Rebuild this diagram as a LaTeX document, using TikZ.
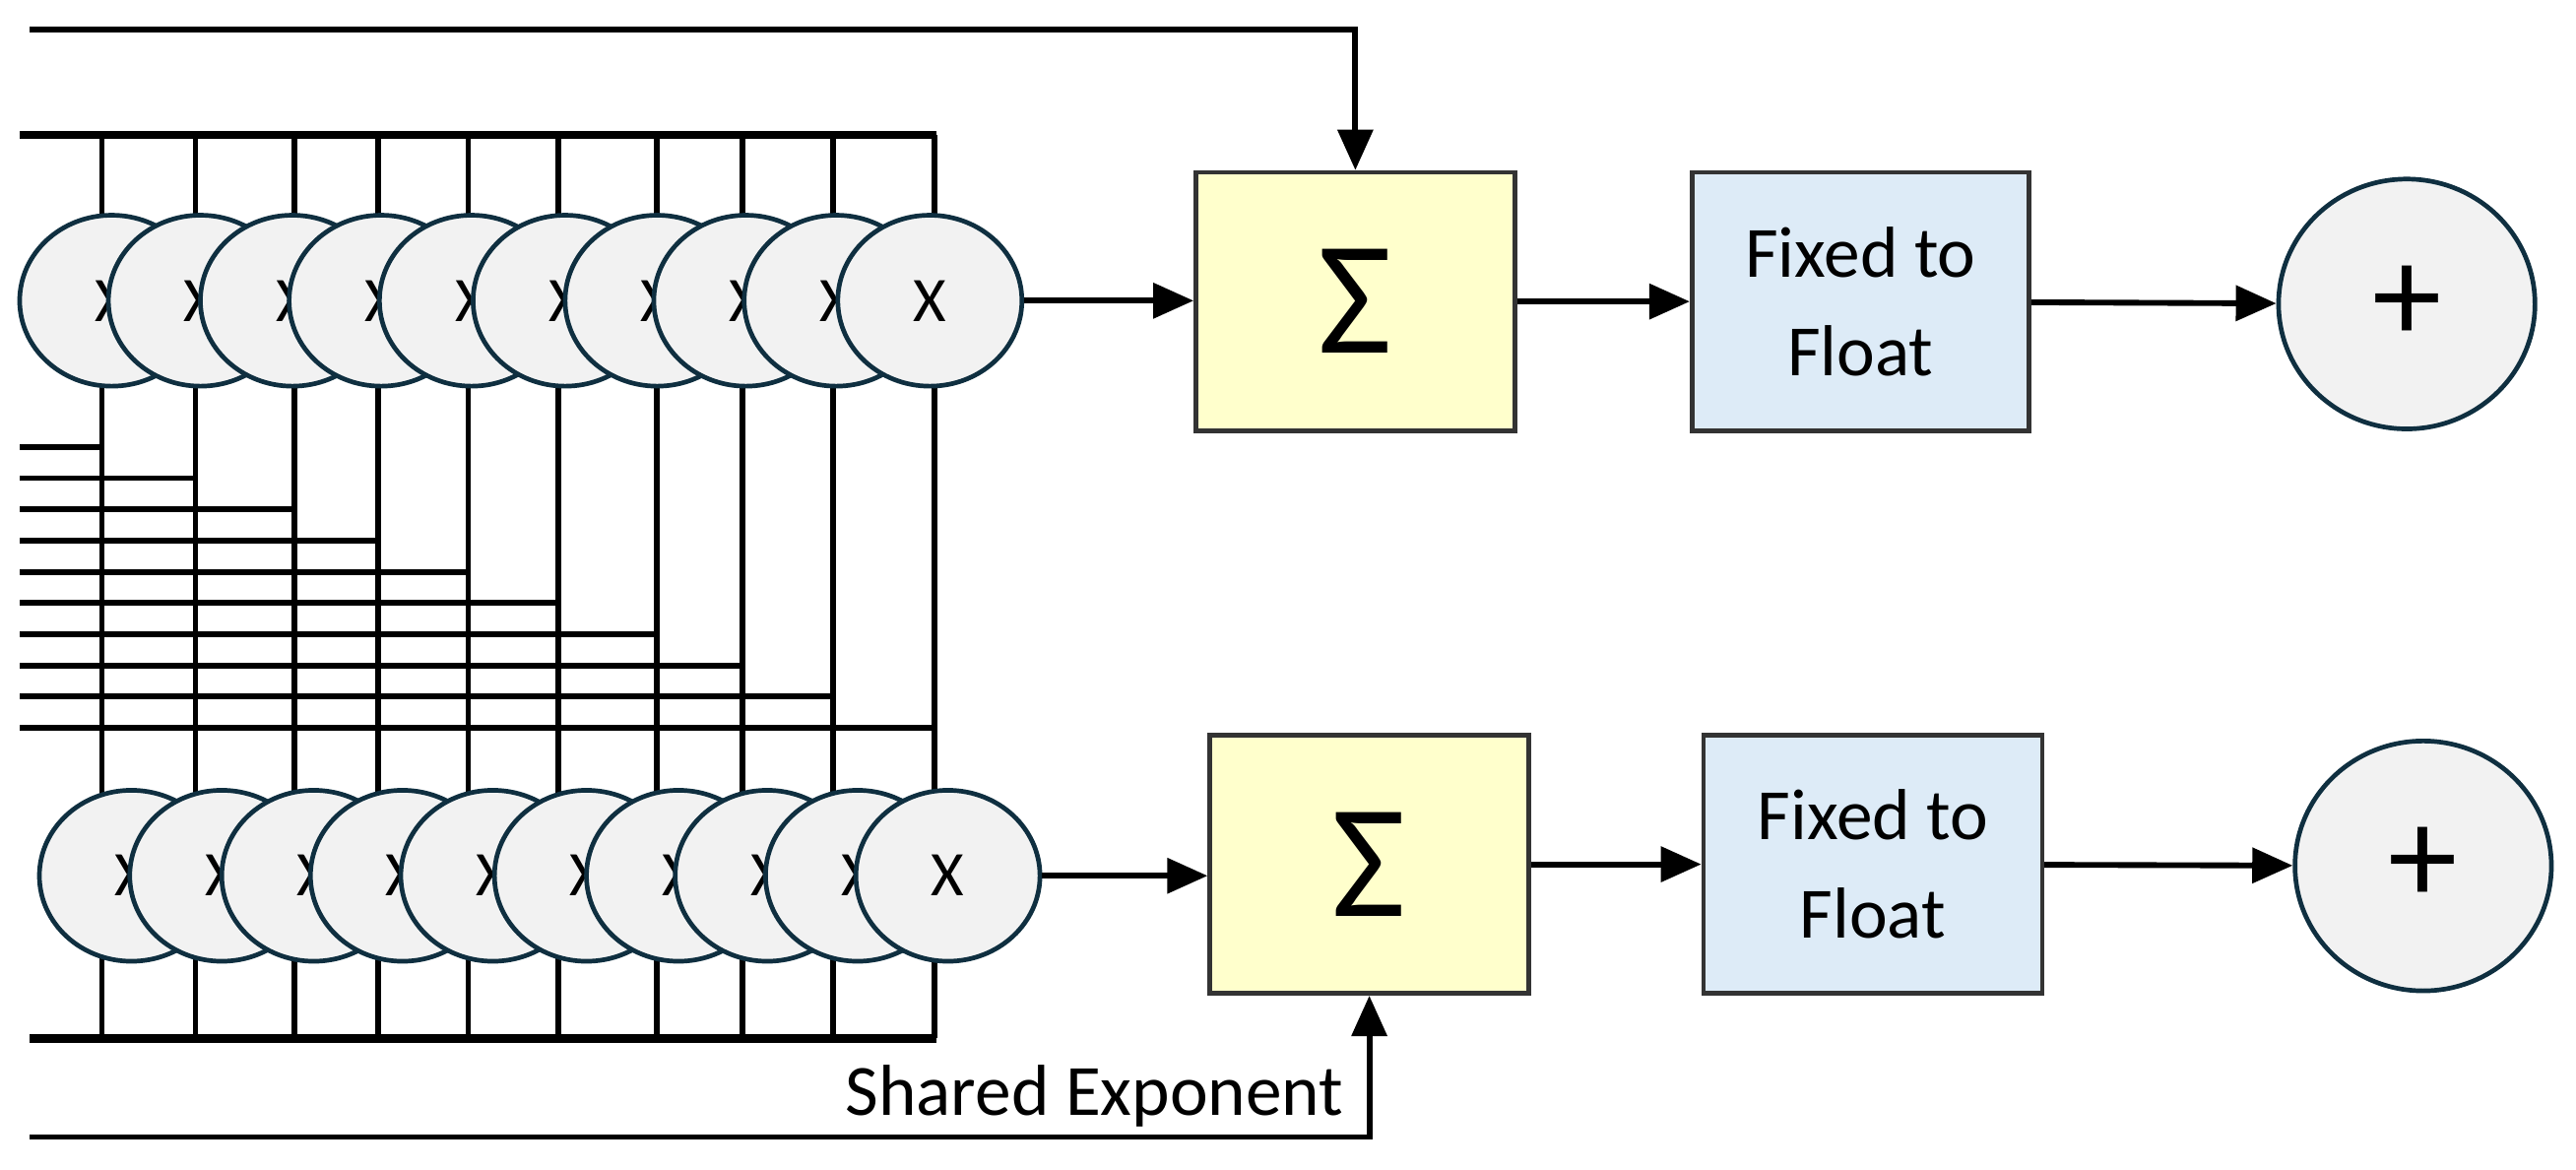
\documentclass[tikz,border=0pt]{standalone}
\usepackage{fontspec}
\setmainfont{Carlito}
\usetikzlibrary{arrows.meta,shapes.geometric}
\definecolor{ellfill}{HTML}{F2F2F2}
\definecolor{elldraw}{HTML}{0F2F40}
\definecolor{sigfill}{HTML}{FFFFCC}
\definecolor{f2ffill}{HTML}{DDEBF7}
\begin{document}
\begin{tikzpicture}[x=0.01cm,y=-0.01cm,
  wire/.style={line width=1pt,black},
  bus/.style={line width=1.4pt,black},
  arr/.style={line width=1pt,-{Triangle[length=7pt,width=6pt]}},
  mul/.style={ellipse,draw=elldraw,line width=0.8pt,fill=ellfill,minimum width=112*0.2845pt,minimum height=104*0.2845pt,inner sep=0pt,font=\fontsize{11}{13}\selectfont},
  blk/.style={draw=black!80,line width=0.8pt,minimum width=194*0.2845pt,minimum height=157*0.2845pt,inner sep=0pt},
  addc/.style={ellipse,draw=elldraw,line width=0.8pt,fill=ellfill,minimum width=156*0.2845pt,minimum height=152*0.2845pt,inner sep=0pt,font=\fontsize{24}{26}\selectfont}]
\useasboundingbox (0,0) rectangle (1568,711.5);
% buses
\draw[bus] (12,82) -- (570,82);
\draw[bus] (18,632) -- (570,632);
% verticals and staircase
\foreach \x [count=\i] in {62,119,179,230,285,340,400,452,507,569}{
  \coordinate (vt\i) at (\x,82);
  \coordinate (vb\i) at (\x,632);
  \draw[wire] (vt\i) -- (vb\i);
  \coordinate (hl\i) at (12,{272+19*(\i-1)});
  \coordinate (hr\i) at (\x,{272+19*(\i-1)});
  \draw[wire] (hl\i) -- (hr\i);
}
% multipliers
\foreach \x [count=\i] in {68,122,178,232,287,344,400,454,509,566}{
  \node[mul] (m\i) at (\x,183) {X};
}
\foreach \x [count=\i] in {80,135,191,245,300,357,413,467,522,577}{
  \node[mul] (n\i) at (\x,533) {X};
}
% blocks
\node[blk,fill=sigfill,font=\fontsize{28}{30}\selectfont] (s1) at (825,183.5) {Σ};
\node[blk,fill=f2ffill,minimum width=205*0.2845pt,font=\fontsize{12.5}{17}\selectfont,align=center] (f1) at (1132.5,183.5) {Fixed to\\Float};
\node[addc] (a1) at (1465,185) {+};
\node[blk,fill=sigfill,font=\fontsize{28}{30}\selectfont] (s2) at (833.5,526) {Σ};
\node[blk,fill=f2ffill,minimum width=206*0.2845pt,font=\fontsize{12.5}{17}\selectfont,align=center] (f2) at (1140,526) {Fixed to\\Float};
\node[addc] (a2) at (1475,527) {+};
% arrows
\draw[arr] (m10.east) -- (s1.west |- m10.east);
\draw[arr] (s1) -- (f1);
\draw[arr] (f1) -- (a1);
\draw[arr] (n10.east) -- (s2.west |- n10.east);
\draw[arr] (s2) -- (f2);
\draw[arr] (f2) -- (a2);
% exponent feeds
\coordinate (t0) at (18,18);
\draw[arr] (t0) -| (s1.north);
\coordinate (b0) at (18,692);
\draw[arr] (b0) -| (s2.south);
\node[anchor=south east,inner sep=1pt,font=\fontsize{12.5}{14}\selectfont] (se) at (822,690) {Shared Exponent};
\end{tikzpicture}
\end{document}
